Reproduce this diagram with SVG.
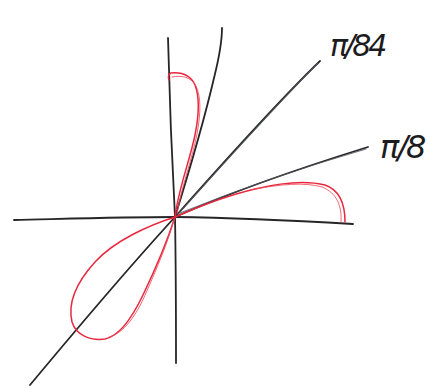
<svg xmlns="http://www.w3.org/2000/svg" width="430" height="389" viewBox="0 0 430 389">
<style>
.ax{fill:none;stroke:#262628;stroke-width:1.8;stroke-linecap:round;stroke-linejoin:round}
.ax2{fill:none;stroke:#55585f;stroke-width:1.1;stroke-linecap:round;opacity:0.8}
.rd{fill:none;stroke:#e8283f;stroke-width:1.5;stroke-linecap:round;stroke-linejoin:round}
.rd2{fill:none;stroke:#ee4a5c;stroke-width:1;stroke-linecap:round;opacity:0.85}
.lb{font-family:"DejaVu Sans","Liberation Sans",sans-serif;fill:#1c1c1e;font-style:italic}
</style>
<rect width="430" height="389" fill="#ffffff"/>
<g id="axes">
<path class="ax" d="M14,220 C60,219 120,217 175,217 C240,218 300,221 353,224"/>
<path class="ax" d="M168,38 C170,120 173,180 175,217 C176,270 176,320 176,363"/>
<path class="ax" d="M222,28 C222,40 219,58 214,78 C203,125 188,175 175,217"/>
<path class="ax" d="M320,61 C290,90 230,155 175,217 C130,266 80,325 30,385"/>
<path class="ax2" d="M318,63 C288,93 232,154 178,214"/>
<path class="ax" d="M368,147 C310,165 240,188 175,217"/>
<path class="ax2" d="M366,149 C300,168 250,185 180,213"/>
</g>
<g id="curve">
<path class="rd" d="M175,217 C178,190 190,160 195,135 C199,115 200,98 195,85 C190,74 181,72 171,73 C168,74 168,78 169,80"/>
<path class="rd2" d="M177,214 C181,188 192,160 197,134 C201,112 201,97 196,86 C191,77 182,75 172,77"/>
<path class="rd" d="M175,217 C200,206 225,196 255,189 C280,183 305,180 325,185 C340,190 345,205 345,222"/>
<path class="rd2" d="M250,190 C280,184 305,182 322,187 C337,193 342,206 341,222"/>
<path class="rd" d="M175,217 C150,225 115,240 95,262 C75,284 68,305 72,322 C76,335 90,341 105,339 C120,336 132,318 143,295 C155,270 166,245 175,217"/>
<path class="rd2" d="M109,337 C124,333 136,316 146,293 C157,268 168,242 174,220"/>
</g>
<g id="labels">
<text class="lb" x="330" y="56" font-size="30" letter-spacing="-3">π/84</text>
<text class="lb" x="380" y="158" font-size="32" letter-spacing="-2">π/8</text>
</g>
</svg>
